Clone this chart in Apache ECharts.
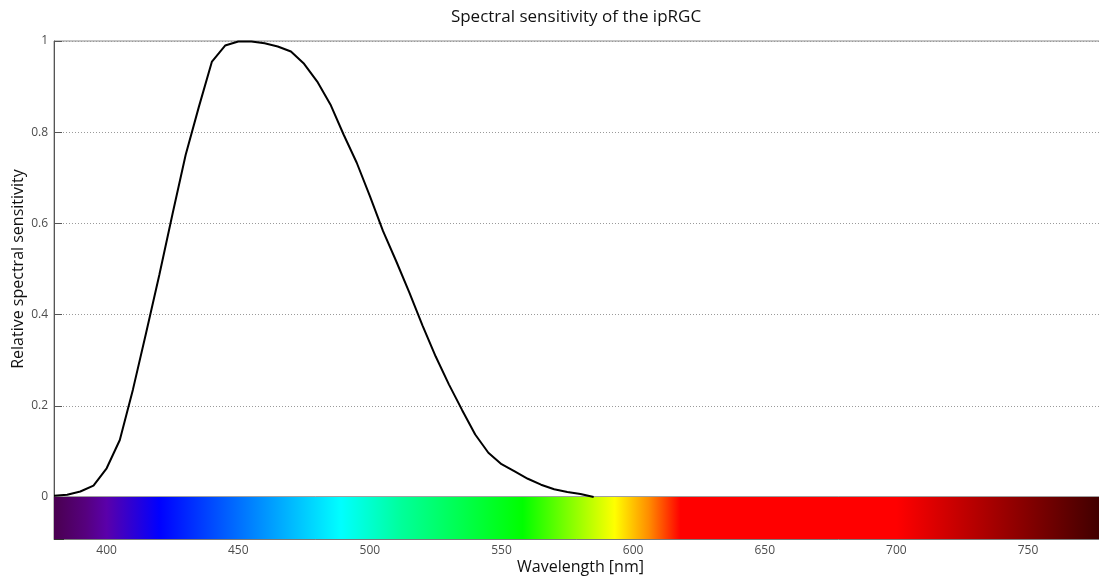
<!DOCTYPE html>
<html>
<head>
<meta charset="utf-8">
<script src="https://cdn.jsdelivr.net/npm/echarts@6/dist/echarts.min.js"></script>
<style>html,body{margin:0;padding:0;background:#fff}#c{width:1099px;height:576px}</style>
</head>
<body>
<div id="c"></div>
<script>
// Wavelengths (nm) and relative sensitivity
var wavelengths = [380,385,390,395,400,405,410,415,420,425,430,435,440,445,450,455,460,465,470,475,480,485,490,495,500,505,510,515,520,525,530,535,540,545,550,555,560,565,570,575,580,585];
var sensitivity = [0.003,0.005,0.012,0.025,0.063,0.125,0.236,0.36,0.487,0.62,0.75,0.855,0.955,0.99,0.999,0.999,0.995,0.988,0.977,0.95,0.911,0.861,0.795,0.733,0.66,0.583,0.517,0.448,0.376,0.308,0.247,0.191,0.137,0.097,0.072,0.056,0.040,0.027,0.017,0.011,0.0066,0.0];
// Colour bar stops
var specWavelengths = [380,392,400,420,489,512,558,593,606,618,700,780];
var specColors = ['#4a0050','#56007e','#5a00aa','#0000ff','#00ffff','#00ff9a','#00ff00','#ffff00','#ff8c00','#ff0000','#ff0000','#3a0000'];
var xTickValues = [400,450,500,550,600,650,700,750];
var yTicks = {min:0, max:1, interval:0.2};
var xRange = {min:380, max:780};

var seriesData = wavelengths.map(function(w,i){return [w, sensitivity[i]];});
var stops = specWavelengths.map(function(w,i){return {offset:(w-xRange.min)/(xRange.max-xRange.min), color:specColors[i]};});

var chart = echarts.init(document.getElementById('c'));
var labelColor = '#4d4d4d';
var fontFam = 'Open Sans, Noto Sans, sans-serif';
chart.setOption({
  animation:false,
  grid:[
    {left:54, top:41, width:1053, height:456, show:true, borderColor:'#8a8a8a', borderWidth:1, backgroundColor:'#fff', outerBoundsMode:'none', containLabel:false},
    {left:54, top:497, width:1053, height:42, show:true, borderColor:'#7a7a7a', borderWidth:1, outerBoundsMode:'none', containLabel:false}
  ],
  graphic:[{type:'text', x:576, y:17, style:{text:'Spectral sensitivity of the ipRGC', font:'17px '+fontFam, fill:'#111', textAlign:'center', textVerticalAlign:'middle'}}],
  xAxis:[
    {gridIndex:0, type:'value', min:xRange.min, max:xRange.max, axisLine:{show:false}, axisTick:{show:false}, axisLabel:{show:false}, splitLine:{show:false}},
    {gridIndex:1, type:'value', min:xRange.min, max:xRange.max, position:'bottom',
      axisLine:{show:true, lineStyle:{color:'#7a7a7a'}},
      axisTick:{show:true, inside:true, length:6, lineStyle:{color:'#333'}, customValues:xTickValues},
      axisLabel:{show:true, color:labelColor, fontSize:12, fontFamily:fontFam, margin:6, customValues:xTickValues},
      splitLine:{show:false},
      name:'Wavelength [nm]', nameLocation:'middle', nameGap:20, nameMoveOverlap:false, nameTextStyle:{color:'#111', fontSize:16, fontFamily:fontFam}},
    {gridIndex:1, type:'value', min:xRange.min, max:xRange.max, position:'top',
      axisLine:{show:false}, axisTick:{show:true, inside:true, length:6, lineStyle:{color:'#333'}, customValues:xTickValues}, axisLabel:{show:false}, splitLine:{show:false}}
  ],
  yAxis:[
    {gridIndex:0, type:'value', min:yTicks.min, max:yTicks.max, interval:yTicks.interval,
      axisLine:{show:true, lineStyle:{color:'#555'}}, axisTick:{show:true, inside:true, length:8, lineStyle:{color:'#555'}},
      axisLabel:{color:labelColor, fontSize:12, fontFamily:fontFam, margin:6},
      splitLine:{show:true, lineStyle:{color:'#9a9a9a', type:[1,2], width:1}},
      name:'Relative spectral sensitivity', nameLocation:'middle', nameGap:28, nameMoveOverlap:false, nameTextStyle:{color:'#111', fontSize:16, fontFamily:fontFam}},
    {gridIndex:1, type:'value', min:0, max:2, interval:1,
      axisLine:{show:true, lineStyle:{color:'#555'}}, axisTick:{show:true, inside:true, length:10, lineStyle:{color:'#333'}},
      axisLabel:{show:false}, splitLine:{show:false}}
  ],
  series:[
    {type:'line', xAxisIndex:1, yAxisIndex:1, data:[[xRange.min,2],[xRange.max,2]], symbol:'none', lineStyle:{width:0, opacity:0},
      areaStyle:{opacity:1, origin:'start', color:new echarts.graphic.LinearGradient(0,0,1,0,stops)}, z:1, silent:true},
    {type:'line', xAxisIndex:0, yAxisIndex:0, data:seriesData, symbol:'none', smooth:false,
      lineStyle:{color:'#000', width:2}, z:5, clip:true}
  ]
});
</script>
</body>
</html>
